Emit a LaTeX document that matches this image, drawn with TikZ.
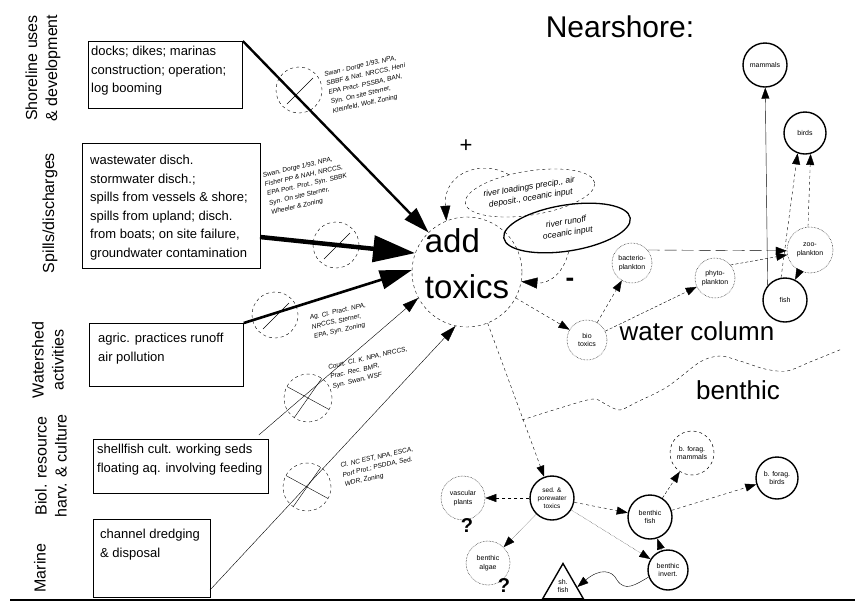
\documentclass[tikz,border=0pt]{standalone}
\usepackage{fontspec}
\setmainfont{Liberation Sans}
\usetikzlibrary{arrows.meta,shapes.geometric}

\begin{document}
\begin{tikzpicture}[x=1pt,y=-1pt,
  srcbox/.style={draw,thick,inner sep=0pt,anchor=north west},
  srctext/.style={anchor=north west,align=left,inner sep=0pt,font=\fontsize{13}{18.5}\selectfont},
  sidelabel/.style={rotate=90,align=center,font=\fontsize{16}{20}\selectfont},
  refs/.style={rotate=13,align=left,inner sep=0pt,font=\fontsize{6.6}{9.5}\selectfont\itshape},
  nochange/.style={circle,draw,dashed,minimum size=46,inner sep=0pt,
    path picture={\draw[solid] ([shift={(-12,14)}]path picture bounding box.center) -- ([shift={(14,-12)}]path picture bounding box.center);}},
  reduce/.style={circle,draw,dashed,minimum size=48,inner sep=0pt,
    path picture={\draw[solid] ([shift={(-22,-12)}]path picture bounding box.center) -- ([shift={(22,12)}]path picture bounding box.center)
      ([shift={(-14,20)}]path picture bounding box.center) -- ([shift={(14,-20)}]path picture bounding box.center);}},
  taxon/.style={circle,draw,line width=1.4pt,minimum size=44,inner sep=0pt,align=center,font=\fontsize{7}{8.5}\selectfont},
  maybe/.style={taxon,line width=0.5pt,densely dotted},
  link/.style={-{Triangle[length=11pt,width=8pt]}},
  bigtext/.style={font=\fontsize{26}{26}\selectfont},
]
\useasboundingbox (0,0) rectangle (855,606);

\node[font=\fontsize{30}{34}\selectfont] (title) at (620,27) {Nearshore:};

% human activities
\node[sidelabel] (lshore) at (43,68) {Shoreline uses\\\& development};
\node[sidelabel] (lspill) at (50,213) {Spills/discharges};
\node[sidelabel] (lshed) at (48,360) {Watershed\\activities};
\node[sidelabel] (lbiol) at (51,466) {Biol. resource\\harv. \& culture};
\node[sidelabel] (lmar) at (40,568) {Marine};

\node[srcbox,minimum width=154,minimum height=67] (shore) at (88,41) {};
\node[srctext] (shoretxt) at (91,46) {docks; dikes; marinas\\construction; operation;\\log booming};
\node[srcbox,minimum width=178,minimum height=125] (spill) at (82,143) {};
\node[srctext] (spilltxt) at (90,155) {wastewater disch.\\stormwater disch.;\\spills from vessels \& shore;\\spills from upland; disch.\\from boats; on site failure,\\groundwater contamination};
\node[srcbox,minimum width=154,minimum height=63] (shed) at (89,323) {};
\node[srctext] (shedtxt) at (98,333) {agric. practices runoff\\air pollution};
\node[srcbox,minimum width=175,minimum height=54] (biol) at (93,439) {};
\node[srctext] (bioltxt) at (97,444) {shellfish cult. working seds\\floating aq. involving feeding};
\node[srcbox,minimum width=117,minimum height=78] (mar) at (93,519) {};
\node[srctext] (martxt) at (100,529) {channel dredging\\\& disposal};

\draw[line width=1.5pt] (10,600) -- (855,600);

% central node
\node[circle,draw,dashed,minimum size=110,inner sep=0pt] (toxics) at (467,272) {};
\node[align=left,font=\fontsize{33}{46}\selectfont] (toxtxt) at (467,264) {add\\toxics};

\coordinate (spillout) at (260,237);
\coordinate (marout) at (210,590);
\draw[line width=2.4pt,-{Triangle[length=26pt,width=16pt]}] (shore.north east) -- (toxics);
\draw[line width=4.5pt,-{Triangle[length=42pt,width=26pt]}] (spillout) -- (toxics.160);
\draw[line width=2.6pt,-{Triangle[length=32pt,width=19pt]}] (shed.north east) -- (toxics.178);
\draw[-{Triangle[length=16pt,width=10pt]}] (biol.north east) ++(-10,-4) -- (toxics.208);
\draw[-{Triangle[length=16pt,width=10pt]}] (marout) -- (toxics.258);

\node[nochange] (c1) at (299,90) {};
\node[nochange] (c2) at (336,245) {};
\node[nochange] (c3) at (275,315) {};
\node[reduce] (c4) at (308,398) {};
\node[reduce] (c5) at (307,487) {};

\node[refs] (r1) at (368,84) {Swan - Dorge 1/93, NPA,\\SBBF \& Nat. NRCCS, Heni\\EPA Pract. PSSBA, BAN,\\Syn. On site Sterner,\\Kleinfeld, Wolf, Zoning};
\node[refs] (r2) at (307,185) {Swan, Dorge 1/93, NPA,\\Fisher PP \& NAH, NRCCS,\\EPA Port. Prot., Syn. SBBK\\Syn. On site Sterner,\\Wheeler \& Zoning};
\node[refs] (r3) at (340,321) {Ag. Cl. Pract. NPA,\\NRCCS, Sterner,\\EPA, Syn. Zoning};
\node[refs] (r4) at (370,368) {Court. Cl. K. NPA, NRCCS,\\Prac. Rec. BMR,\\Syn. Swan, WSF};
\node[refs] (r5) at (379,467) {Cl. NC EST, NPA, ESCA,\\Port Prot.; PSDDA, Sed.\\WDR, Zoning};

% natural inputs
\node[ellipse,draw,dashed,rotate=9,minimum width=128,minimum height=44,inner sep=0pt,align=center,font=\fontsize{8.5}{11}\selectfont\itshape] (rain) at (530,193) {river loadings precip., air\\deposit., oceanic input};
\node[ellipse,draw,line width=1.3pt,rotate=9,minimum width=128,minimum height=46,inner sep=0pt,align=center,font=\fontsize{8.5}{11}\selectfont\itshape] (runoff) at (567,228) {river runoff\\oceanic input};
\draw[dashed,-{Triangle[length=15pt,width=10pt]}] (rain.130) .. controls (485,160) and (443,170) .. (toxics.112);
\draw[dashed,-{Triangle[length=16pt,width=11pt]}] (runoff.265) .. controls (563,275) and (548,284) .. (toxics.-10);
\node[font=\fontsize{22}{22}\selectfont] (plus) at (466,146) {+};
\node[font=\fontsize{26}{26}\selectfont\bfseries] (minus) at (570,282) {-};

% water column
\node[maybe,minimum size=40] (biotox) at (587,340) {bio\\toxics};
\node[maybe,minimum size=40] (bact) at (632,263) {bacterio-\\plankton};
\node[maybe,minimum size=40] (phyto) at (715,278) {phyto-\\plankton};
\node[maybe,minimum size=46] (zoo) at (810,250) {zoo-\\plankton};
\node[taxon] (fish) at (785,300) {fish};
\node[taxon,minimum size=42] (birds) at (805,133) {birds};
\node[taxon] (mammals) at (765,65) {mammals};

\draw[dashed,link] (toxics.-28) -- (biotox);
\draw[dashed,link] (biotox) -- (bact);
\draw[densely dashed,link] (biotox) -- (phyto);
\draw[dash pattern=on 12pt off 5pt,link] (bact.40) -- (zoo.182);
\draw[densely dashed,link] (phyto.40) -- (zoo.192);
\draw[link] (zoo) -- (fish);
\draw[dashed,link] (fish.100) -- (birds.250);
\draw[dashed,link] (zoo.95) -- (birds.285);
\draw[link] (fish.140) -- (mammals);

\node[bigtext] (wcol) at (697,331) {water column};
\node[bigtext] (benth) at (738,390) {benthic};
\draw[dashed] plot[smooth] coordinates {(522,420) (560,408) (593,399) (607,405) (620,410) (637,402) (667,387) (700,362) (720,356) (740,361) (765,369) (787,371) (810,362) (842,349)};

% benthic
\node[taxon,font=\fontsize{6.5}{8}\selectfont] (sed) at (552,498) {sed. \&\\porewater\\toxics};
\node[maybe] (vasc) at (463,498) {vascular\\plants};
\node[maybe] (algae) at (488,563) {benthic\\algae};
\node[taxon] (bfish) at (650,517) {benthic\\fish};
\node[taxon,minimum size=40] (binv) at (668,570) {benthic\\invert.};
\node[taxon,line width=0.5pt,dashed] (bmam) at (692,453) {b. forag.\\mammals};
\node[taxon,minimum size=42] (bbirds) at (777,478) {b. forag.\\birds};
\node[draw,line width=1.4pt,regular polygon,regular polygon sides=3,minimum size=47,inner sep=0pt] (tri) at (563,587) {};
\node[font=\fontsize{7}{8.5}\selectfont,align=center] (tritxt) at (563,586) {sh.\\fish};
\node[font=\fontsize{20}{20}\selectfont\bfseries] (q1) at (467,526) {?};
\node[font=\fontsize{20}{20}\selectfont\bfseries] (q2) at (504,586) {?};

\draw[dashed,link] (toxics.-68) -- (sed);
\draw[dashed,link] (sed) -- (vasc);
\draw[densely dotted,link] (sed) -- (algae);
\draw[dashed,link] (sed) -- (bfish);
\draw[densely dotted,link] (sed) -- (binv);
\draw[link] (binv) -- (bfish);
\draw[densely dashed,link] (bfish) -- (bmam);
\draw[dashed,link] (bfish) -- (bbirds);
\draw[link] (binv.200) .. controls (635,585) and (625,592) .. (617,580) .. controls (612,570) and (600,568) .. (tri.east);
\end{tikzpicture}
\end{document}
